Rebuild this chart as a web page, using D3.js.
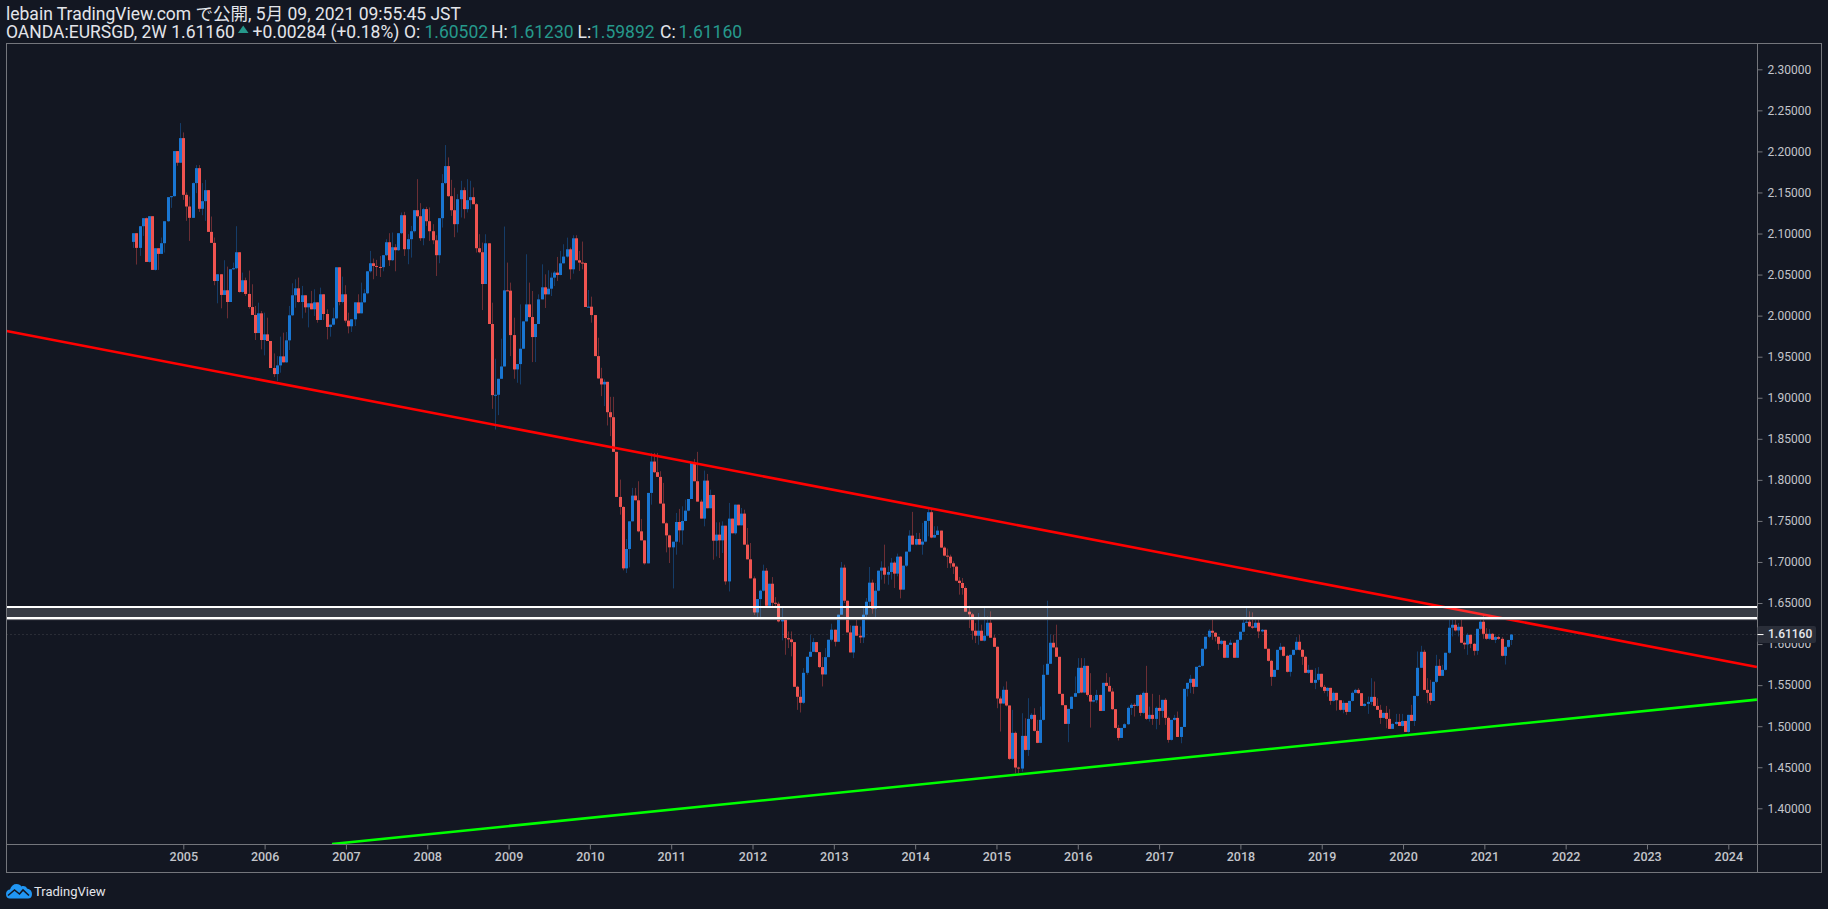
<!DOCTYPE html>
<html>
<head>
<meta charset="utf-8">
<script src="https://cdn.jsdelivr.net/npm/d3@7"></script>
<style>
  html, body { margin: 0; padding: 0; background: #131722; overflow: hidden; }
  svg { display: block; }
  text { font-family: Roboto, "Noto Sans CJK JP", sans-serif; }
</style>
</head>
<body>
<script>
// 2W bars, oldest first. Each bar opens where the one before closed.
const firstOpen = 2.0898
const closes = [
  2.1004,2.0825,2.1089,2.1187,2.0654,2.1211,2.0557,2.0821,2.0752,2.0882,
  2.1150,2.1443,2.1455,2.2004,2.1862,2.2162,2.1471,2.1329,2.1191,2.1614,
  2.1796,2.1301,2.1394,2.1528,2.1020,2.0886,2.0422,2.0504,2.0252,2.0309,
  2.0166,2.0565,2.0577,2.0772,2.0288,2.0431,2.0264,2.0105,2.0008,1.9788,
  2.0028,1.9703,1.9772,1.9691,1.9362,1.9288,1.9394,1.9504,1.9431,1.9699,
  2.0004,2.0248,2.0333,2.0166,2.0248,2.0101,2.0150,2.0077,2.0162,1.9947,
  2.0260,2.0020,1.9862,1.9890,1.9967,2.0589,2.0166,2.0260,1.9939,1.9870,
  1.9955,2.0162,2.0028,2.0162,2.0272,2.0540,2.0638,2.0605,2.0593,2.0590,
  2.0736,2.0894,2.0675,2.0833,2.0797,2.1004,2.1223,2.0809,2.0931,2.1028,
  2.1284,2.1211,2.0943,2.1297,2.1150,2.1028,2.0918,2.0736,2.1187,2.1614,
  2.1821,2.1455,2.1284,2.1114,2.1418,2.1528,2.1297,2.1406,2.1443,2.1357,
  2.0821,2.0772,2.0385,2.0881,1.9898,1.9032,1.9036,1.9231,1.9381,2.0308,
  2.0304,1.9763,1.9345,1.9410,1.9597,1.9930,2.0137,1.9983,1.9739,1.9898,
  2.0198,2.0345,2.0259,2.0328,2.0463,2.0524,2.0495,2.0637,2.0719,2.0808,
  2.0564,2.0942,2.0674,2.0646,2.0641,2.0105,2.0109,2.0007,1.9507,1.9235,
  1.9162,1.9194,1.8824,1.8763,1.8341,1.7792,1.7670,1.6922,1.7158,1.7495,
  1.7808,1.7751,1.7373,1.7263,1.6983,1.7841,1.8223,1.8093,1.8036,1.7711,
  1.7471,1.7324,1.7178,1.7247,1.7487,1.7385,1.7499,1.7625,1.7767,1.8206,
  1.7983,1.7735,1.7528,1.7991,1.7654,1.7816,1.7259,1.7333,1.7263,1.7442,
  1.6763,1.7528,1.7349,1.7698,1.7446,1.7589,1.7211,1.7032,1.6800,1.6385,
  1.6548,1.6650,1.6894,1.6467,1.6735,1.6503,1.6491,1.6276,1.6297,1.6073,
  1.6057,1.6024,1.5480,1.5358,1.5285,1.5650,1.5845,1.5906,1.6024,1.5902,
  1.5720,1.5630,1.5841,1.6053,1.6175,1.6028,1.6358,1.6931,1.6528,1.6142,
  1.5898,1.6223,1.6102,1.6081,1.6358,1.6516,1.6748,1.6431,1.6650,1.6894,
  1.6931,1.6845,1.6878,1.6992,1.6858,1.7065,1.6663,1.6955,1.7126,1.7321,
  1.7211,1.7280,1.7211,1.7248,1.7500,1.7606,1.7297,1.7329,1.7382,1.7175,
  1.7077,1.7065,1.6984,1.6943,1.6772,1.6744,1.6683,1.6394,1.6362,1.6163,
  1.6102,1.6163,1.6041,1.6102,1.6260,1.6077,1.5967,1.5337,1.5276,1.5443,
  1.5252,1.4602,1.4919,1.4496,1.4484,1.4882,1.4711,1.5089,1.5138,1.4943,
  1.4797,1.5077,1.5626,1.5760,1.6016,1.5959,1.5845,1.5394,1.5256,1.5028,
  1.5211,1.5358,1.5402,1.5711,1.5410,1.5735,1.5381,1.5300,1.5316,1.5381,
  1.5186,1.5528,1.5491,1.5422,1.5207,1.4979,1.4857,1.4979,1.5024,1.5223,
  1.5260,1.5247,1.5381,1.5162,1.5406,1.5089,1.5138,1.5089,1.5223,1.5186,
  1.5321,1.5101,1.4833,1.5077,1.5101,1.4869,1.4991,1.5455,1.5528,1.5577,
  1.5479,1.5723,1.5735,1.5943,1.6089,1.6162,1.6138,1.6089,1.6003,1.6040,
  1.5833,1.5991,1.6016,1.5833,1.6052,1.6150,1.6260,1.6272,1.6215,1.6199,
  1.6260,1.6154,1.6174,1.5943,1.5796,1.5601,1.5686,1.5930,1.5967,1.5857,
  1.5662,1.5869,1.5930,1.6028,1.5930,1.5845,1.5650,1.5686,1.5528,1.5564,
  1.5638,1.5479,1.5430,1.5467,1.5308,1.5406,1.5316,1.5199,1.5284,1.5174,
  1.5308,1.5406,1.5442,1.5402,1.5247,1.5272,1.5296,1.5357,1.5247,1.5199,
  1.5101,1.5162,1.5089,1.4967,1.5028,1.5052,1.5003,1.5064,1.4930,1.5138,
  1.5064,1.5369,1.5711,1.5906,1.5442,1.5406,1.5308,1.5540,1.5735,1.5613,
  1.5686,1.5894,1.6199,1.6235,1.6166,1.6211,1.6016,1.5995,1.6113,1.6003,
  1.5918,1.6186,1.6272,1.6125,1.6064,1.6125,1.6052,1.6085,1.6064,1.5857,
  1.5967,1.6050,1.6116
]
const highs = [
  2.1004,2.1004,2.1089,2.1187,2.1195,2.1211,2.1211,2.0821,2.0821,2.0951,
  2.1150,2.1443,2.1455,2.2004,2.2004,2.2345,2.2231,2.1500,2.1451,2.1622,
  2.1833,2.1833,2.1614,2.1654,2.1528,2.1207,2.0951,2.0504,2.0504,2.0675,
  2.0597,2.0565,2.0646,2.1089,2.0772,2.0524,2.0463,2.0549,2.0382,2.0118,
  2.0158,2.0057,2.0036,1.9975,1.9691,1.9540,1.9508,1.9744,1.9792,1.9801,
  2.0118,2.0394,2.0443,2.0463,2.0362,2.0248,2.0150,2.0301,2.0321,2.0162,
  2.0341,2.0260,2.0077,1.9890,2.0097,2.0589,2.0589,2.0475,2.0370,2.0036,
  1.9955,2.0162,2.0260,2.0402,2.0321,2.0540,2.0788,2.0695,2.0679,2.0727,
  2.0736,2.0931,2.1004,2.1012,2.0870,2.1004,2.1256,2.1264,2.0992,2.1093,
  2.1284,2.1662,2.1370,2.1313,2.1325,2.1317,2.1114,2.0979,2.1187,2.1723,
  2.2077,2.1927,2.1654,2.1557,2.1479,2.1642,2.1561,2.1662,2.1642,2.1561,
  2.1370,2.0992,2.0889,2.0991,2.0881,2.0158,1.9475,1.9231,1.9719,2.1085,
  2.0646,2.0402,1.9975,1.9410,2.0137,1.9930,2.0747,2.0402,2.0300,1.9898,
  2.0259,2.0625,2.0503,2.0552,2.0524,2.0544,2.0715,2.0788,2.0869,2.0950,
  2.0828,2.0979,2.0979,2.0788,2.0902,2.0646,2.0312,2.0231,2.0007,1.9731,
  1.9365,1.9223,1.9194,1.9011,1.9011,1.8341,1.8003,1.7678,1.7280,1.7495,
  1.7902,1.7902,1.7983,1.7524,1.7263,1.7841,1.8328,1.8328,1.8328,1.8105,
  1.7963,1.7483,1.7333,1.7247,1.7597,1.7646,1.7678,1.7759,1.7767,1.8206,
  1.8255,1.8341,1.7759,1.8113,1.8072,1.7881,1.7816,1.7483,1.7483,1.7495,
  1.7442,1.7719,1.7528,1.7698,1.7698,1.7658,1.7637,1.7414,1.7231,1.6824,
  1.6548,1.6662,1.6967,1.6926,1.6735,1.6816,1.6572,1.6516,1.6459,1.6297,
  1.6154,1.6154,1.6024,1.5492,1.5443,1.5707,1.5845,1.6114,1.6073,1.6024,
  1.5902,1.5841,1.5951,1.6053,1.6248,1.6175,1.6358,1.7000,1.6967,1.6528,
  1.6228,1.6223,1.6297,1.6215,1.6439,1.6561,1.6939,1.6785,1.6744,1.6894,
  1.7008,1.7211,1.6947,1.7049,1.7008,1.7102,1.7069,1.6955,1.7126,1.7386,
  1.7610,1.7354,1.7354,1.7476,1.7500,1.7658,1.7658,1.7435,1.7435,1.7382,
  1.7191,1.7163,1.7089,1.7008,1.6955,1.6817,1.6805,1.6703,1.6467,1.6378,
  1.6256,1.6378,1.6236,1.6439,1.6337,1.6398,1.6114,1.5971,1.5362,1.5484,
  1.5545,1.5252,1.5199,1.4935,1.4508,1.5158,1.5097,1.5341,1.5158,1.5219,
  1.5077,1.5240,1.5748,1.6528,1.6114,1.6114,1.6236,1.5845,1.5394,1.5256,
  1.5211,1.5362,1.5606,1.5829,1.5829,1.5829,1.5735,1.5646,1.5369,1.5442,
  1.5381,1.5528,1.5646,1.5597,1.5463,1.5207,1.5016,1.4979,1.5036,1.5239,
  1.5280,1.5280,1.5381,1.5394,1.5422,1.5735,1.5239,1.5394,1.5239,1.5381,
  1.5321,1.5341,1.5117,1.5077,1.5138,1.5178,1.4991,1.5455,1.5528,1.5625,
  1.5577,1.5723,1.5747,1.5943,1.6089,1.6182,1.6316,1.6146,1.6093,1.6052,
  1.6040,1.5991,1.6052,1.6016,1.6052,1.6150,1.6296,1.6447,1.6398,1.6386,
  1.6296,1.6316,1.6182,1.6174,1.5943,1.5808,1.5686,1.5930,1.6012,1.5971,
  1.5869,1.5869,1.5930,1.6085,1.6113,1.5938,1.5857,1.5747,1.5686,1.5707,
  1.5719,1.5638,1.5503,1.5475,1.5467,1.5422,1.5406,1.5316,1.5312,1.5284,
  1.5308,1.5422,1.5455,1.5463,1.5402,1.5280,1.5361,1.5585,1.5544,1.5341,
  1.5260,1.5166,1.5247,1.5207,1.5036,1.5150,1.5150,1.5150,1.5064,1.5138,
  1.5260,1.5369,1.5910,1.5979,1.5930,1.5585,1.5564,1.5540,1.5869,1.5816,
  1.5747,1.5894,1.6308,1.6308,1.6308,1.6255,1.6308,1.6032,1.6133,1.6113,
  1.6012,1.6186,1.6296,1.6357,1.6194,1.6182,1.6133,1.6101,1.6101,1.6085,
  1.5967,1.6052,1.6123
]
const lows = [
  2.0825,2.0622,2.0727,2.0971,2.0654,2.0646,2.0557,2.0549,2.0557,2.0752,
  2.0768,2.1142,2.1313,2.1451,2.1825,2.1862,2.1410,2.1154,2.0910,2.1191,
  2.1492,2.1264,2.1223,2.1154,2.1020,2.0886,2.0370,2.0150,2.0089,2.0252,
  1.9967,2.0166,2.0557,2.0565,2.0280,2.0280,2.0240,2.0085,2.0008,1.9703,
  1.9788,1.9589,1.9516,1.9691,1.9362,1.9252,1.9203,1.9305,1.9431,1.9427,
  1.9581,1.9996,2.0097,2.0158,1.9967,2.0036,1.9857,2.0077,1.9996,1.9914,
  1.9947,1.9947,1.9711,1.9744,1.9882,1.9955,2.0126,2.0150,1.9914,1.9784,
  1.9801,1.9874,2.0028,2.0028,2.0158,2.0260,2.0524,2.0443,2.0483,2.0471,
  2.0540,2.0727,2.0605,2.0666,2.0540,2.0788,2.0992,2.0727,2.0626,2.0707,
  2.1012,2.1195,2.0910,2.0857,2.1093,2.0910,2.0870,2.0483,2.0638,2.1073,
  2.1601,2.1447,2.1215,2.0955,2.1012,2.1195,2.1183,2.1256,2.1297,2.1357,
  2.0768,2.0760,2.0068,2.0385,1.9898,1.8865,1.8613,1.8788,1.9231,1.9381,
  2.0300,1.9507,1.9231,1.9182,1.9162,1.9597,1.9930,1.9975,1.9434,1.9434,
  1.9898,2.0198,2.0093,2.0259,2.0239,2.0361,2.0422,2.0491,2.0637,2.0707,
  2.0442,2.0511,2.0674,2.0544,2.0564,2.0105,2.0105,1.9914,1.9507,1.9231,
  1.9020,1.8898,1.8662,1.8532,1.8341,1.7792,1.7576,1.6898,1.6865,1.6934,
  1.7495,1.7751,1.7361,1.7263,1.6967,1.6983,1.7698,1.8085,1.8036,1.7711,
  1.7471,1.7117,1.6987,1.6678,1.7089,1.7239,1.7211,1.7495,1.7617,1.7767,
  1.7983,1.7735,1.7528,1.7434,1.7654,1.7654,1.7028,1.7068,1.7048,1.7109,
  1.6723,1.6641,1.7349,1.7333,1.7446,1.7446,1.7211,1.7032,1.6800,1.6353,
  1.6296,1.6316,1.6641,1.6459,1.6459,1.6459,1.6459,1.6264,1.6045,1.5870,
  1.5951,1.5850,1.5480,1.5199,1.5167,1.5272,1.5626,1.5841,1.5906,1.5902,
  1.5707,1.5484,1.5630,1.5841,1.6032,1.5971,1.6028,1.6358,1.6500,1.6142,
  1.5898,1.5829,1.6102,1.6012,1.6012,1.6297,1.6439,1.6370,1.6329,1.6642,
  1.6785,1.6736,1.6723,1.6785,1.6683,1.6825,1.6557,1.6663,1.6939,1.7118,
  1.7211,1.7203,1.7211,1.7089,1.7240,1.7313,1.7289,1.7293,1.7374,1.7171,
  1.7069,1.6927,1.6927,1.6854,1.6764,1.6602,1.6602,1.6394,1.6195,1.6053,
  1.6012,1.5992,1.6041,1.6032,1.6093,1.6077,1.5967,1.5219,1.4935,1.5272,
  1.5240,1.4589,1.4589,1.4427,1.4427,1.4447,1.4703,1.4638,1.5077,1.4935,
  1.4793,1.4793,1.5069,1.5626,1.5760,1.5959,1.5845,1.5394,1.5256,1.5028,
  1.4805,1.5211,1.5358,1.5402,1.5402,1.5402,1.5361,1.4983,1.5292,1.5280,
  1.5186,1.5186,1.5483,1.5422,1.5199,1.4971,1.4825,1.4857,1.4975,1.5016,
  1.5138,1.5117,1.5239,1.5125,1.5150,1.5077,1.5056,1.5016,1.4963,1.5016,
  1.5105,1.5016,1.4800,1.4825,1.5069,1.4869,1.4792,1.4991,1.5361,1.5402,
  1.5394,1.5479,1.5719,1.5727,1.5930,1.6072,1.6052,1.6032,1.5930,1.5991,
  1.5829,1.5833,1.5991,1.5833,1.5833,1.6044,1.6142,1.6255,1.6207,1.6186,
  1.6195,1.6072,1.6142,1.5943,1.5788,1.5491,1.5597,1.5686,1.5922,1.5849,
  1.5654,1.5605,1.5861,1.5922,1.5922,1.5747,1.5646,1.5638,1.5524,1.5451,
  1.5544,1.5463,1.5402,1.5361,1.5260,1.5300,1.5190,1.5190,1.5158,1.5138,
  1.5174,1.5300,1.5402,1.5394,1.5247,1.5239,1.5150,1.5260,1.5239,1.5199,
  1.5028,1.5097,1.4975,1.4967,1.4967,1.5016,1.5003,1.4995,1.4930,1.4922,
  1.5064,1.5003,1.5361,1.5711,1.5442,1.5280,1.5260,1.5308,1.5524,1.5613,
  1.5613,1.5678,1.5881,1.6093,1.6154,1.6093,1.6012,1.5938,1.5869,1.5951,
  1.5861,1.5869,1.6174,1.6064,1.6052,1.6052,1.6052,1.6012,1.6052,1.5849,
  1.5751,1.5955,1.5989
]

const firstBarYear = 2004.385
const barStepYears = 14 / 365.25

const yearTicks = d3.range(2005, 2025)
const priceTicks = d3.range(1.40, 2.301, 0.05)

// drawn lines, as [year, price] ends
const resistanceLine = [[2002.826, 1.9812], [2024.352, 1.5720]]
const supportLine = [[2006.829, 1.3565], [2024.352, 1.5324]]
const zoneTop = 1.6451
const zoneBottom = 1.6317
const zoneEdge = 1.6298

const lastPrice = 1.61160

const titleLine = 'lebain TradingView.com で公開, 5月 09, 2021 09:55:45 JST'
const symbolLine = 'OANDA:EURSGD, 2W 1.61160'
const changeText = '+0.00284 (+0.18%)'
const ohlcLabels = ['O:', 'H:', 'L:', 'C:']
const ohlcValues = ['1.60502', '1.61230', '1.59892', '1.61160']

const width = 1828
const height = 909
const frame = { left: 6.5, top: 43.5, right: 1757.5, axisRight: 1821.5, bottom: 844.5, axisBottom: 872.5 }

const blue = '#1976d2'
const red = '#ef5350'
const gridColor = '#74767c'
const labelColor = '#c3c5cb'
const bg = '#131722'

const x = d3.scaleLinear().domain([2005, 2024]).range([183.3, 1728.3])
const y = d3.scaleLinear().domain([1.40, 2.30]).range([808.3, 69.3])

const bars = closes.map((c, i) => ({
  year: firstBarYear + i * barStepYears,
  open: i === 0 ? firstOpen : closes[i - 1],
  high: highs[i],
  low: lows[i],
  close: c
}))

const svg = d3.select('body').append('svg')
  .attr('width', width)
  .attr('height', height)

svg.append('rect').attr('width', width).attr('height', height).attr('fill', bg)

const clip = svg.append('defs').append('clipPath').attr('id', 'pane')
clip.append('rect')
  .attr('x', frame.left).attr('y', frame.top)
  .attr('width', frame.right - frame.left).attr('height', frame.bottom - frame.top)

function makeHeader() {
  const headerSize = 17.5
  svg.append('text')
    .attr('x', 6).attr('y', 20)
    .attr('font-size', headerSize).attr('fill', '#e3e5ea')
    .text(titleLine)

  const row = svg.append('g')
    .attr('font-size', headerSize).attr('fill', '#e3e5ea')
  const rowText = (str, xPos, color) => row.append('text')
    .attr('x', xPos).attr('y', 38)
    .attr('fill', color || null)
    .text(str)

  rowText(symbolLine, 6)
  rowText(changeText, 252.5)
  const labelX = [404, 491, 577.5, 660]
  const valueX = [424.5, 510, 591, 678.5]
  ohlcLabels.forEach((label, i) => {
    rowText(label, labelX[i])
    rowText(ohlcValues[i], valueX[i], '#26998c')
  })

  svg.append('path')
    .attr('d', 'M238,33 L248.5,33 L243.2,25.5 Z')
    .attr('fill', '#26998c')
}

function makeBars(pane) {
  const g = pane.append('g')
  const color = d => d.close >= d.open ? blue : red
  const snap = d => Math.round(x(d.year))

  g.selectAll('line.wick')
    .data(bars)
    .enter().append('line')
    .attr('class', 'wick')
    .attr('x1', d => snap(d) + 0.5).attr('x2', d => snap(d) + 0.5)
    .attr('y1', d => y(d.high)).attr('y2', d => y(d.low))
    .attr('stroke', color).attr('stroke-opacity', 0.4)

  g.selectAll('rect.body')
    .data(bars)
    .enter().append('rect')
    .attr('class', 'body')
    .attr('x', d => snap(d) - 1).attr('width', 3)
    .attr('y', d => y(Math.max(d.open, d.close)))
    .attr('height', d => Math.max(1, Math.abs(y(d.open) - y(d.close))))
    .attr('fill', color)
}

function makePriceLine(pane) {
  pane.append('line')
    .attr('x1', frame.left).attr('x2', frame.right)
    .attr('y1', y(lastPrice)).attr('y2', y(lastPrice))
    .attr('stroke', '#44474f').attr('stroke-dasharray', '1 3')
}

function makeTrendLines(pane) {
  const line = d3.line().x(d => x(d[0])).y(d => y(d[1]))
  pane.append('path').attr('d', line(resistanceLine))
    .attr('fill', 'none').attr('stroke', '#ff0000').attr('stroke-width', 2.6)
  pane.append('path').attr('d', line(supportLine))
    .attr('fill', 'none').attr('stroke', '#00ff00').attr('stroke-width', 2.6)
}

function makeZone(pane) {
  pane.append('rect')
    .attr('x', frame.left).attr('width', frame.right - frame.left)
    .attr('y', y(zoneTop)).attr('height', y(zoneEdge) - y(zoneTop))
    .attr('fill', '#ffffff').attr('fill-opacity', 0.16)
  pane.selectAll('line.zone')
    .data([zoneTop, zoneBottom])
    .enter().append('line')
    .attr('class', 'zone')
    .attr('x1', frame.left).attr('x2', frame.right)
    .attr('y1', d => y(d)).attr('y2', d => y(d))
    .attr('stroke', '#ffffff').attr('stroke-width', 2)
  pane.append('line')
    .attr('x1', frame.left).attr('x2', frame.right)
    .attr('y1', y(zoneEdge)).attr('y2', y(zoneEdge))
    .attr('stroke', '#8d8f94').attr('stroke-width', 1)
}

function makeAxes() {
  const xAxis = d3.axisBottom(x).tickValues(yearTicks).tickFormat(d3.format('d')).tickSize(5).tickPadding(3)
  const yAxis = d3.axisRight(y).tickValues(priceTicks).tickFormat(d3.format('.5f')).tickSize(5).tickPadding(5)

  const gx = svg.append('g').attr('transform', `translate(0,${frame.bottom})`).call(xAxis)
  const gy = svg.append('g').attr('transform', `translate(${frame.right},0)`).call(yAxis)

  for (const g of [gx, gy]) {
    g.select('.domain').remove()
    g.selectAll('line').attr('stroke', gridColor)
    g.selectAll('text').attr('fill', labelColor).attr('font-size', 12)
  }
  gx.selectAll('text').attr('font-weight', 500).attr('font-size', 12.5)

  const border = svg.append('g').attr('fill', 'none').attr('stroke', gridColor)
  border.append('rect')
    .attr('x', frame.left).attr('y', frame.top)
    .attr('width', frame.axisRight - frame.left).attr('height', frame.axisBottom - frame.top)
  border.append('line')
    .attr('x1', frame.right).attr('x2', frame.right)
    .attr('y1', frame.top).attr('y2', frame.axisBottom)
  border.append('line')
    .attr('x1', frame.left).attr('x2', frame.axisRight)
    .attr('y1', frame.bottom).attr('y2', frame.bottom)
}

function makeLastPriceLabel() {
  const g = svg.append('g').attr('transform', `translate(${frame.right},${y(lastPrice)})`)
  g.append('rect')
    .attr('x', 0).attr('y', -8.5).attr('width', 58.5).attr('height', 17).attr('rx', 2)
    .attr('fill', '#2a2e39')
  g.append('line').attr('x1', 0).attr('x2', 6).attr('stroke', '#ffffff')
  g.append('text')
    .attr('x', 10.5).attr('dy', '0.32em')
    .attr('font-size', 12).attr('font-weight', 500).attr('fill', '#e6e8ee')
    .text(d3.format('.5f')(lastPrice))
}

function makeLogo() {
  const g = svg.append('g').attr('transform', 'translate(6,883)')
  g.append('path')
    .attr('d', 'M0,11 C0,8 2,6.5 4,6.5 C5,3 7.5,1 10.5,1 C13,1 14.5,2 15.5,3.5 C17,2.5 20,3 21,5.5 C24,6 26,8 26,11 C26,14 24.5,15.5 22,15.5 L4,15.5 C1.5,15.5 0,14 0,11 Z')
    .attr('fill', '#2196f3')
  g.append('path')
    .attr('d', 'M2,12.5 L8.5,7 L13.5,11 L17,7 L23,12.5')
    .attr('fill', 'none').attr('stroke', bg).attr('stroke-width', 1.6)
  svg.append('text')
    .attr('x', 34).attr('y', 896)
    .attr('font-size', 13).attr('fill', '#e3e5ea')
    .text('TradingView')
}

const pane = svg.append('g').attr('clip-path', 'url(#pane)')
makePriceLine(pane)
makeBars(pane)
makeTrendLines(pane)
makeZone(pane)
makeAxes()
makeLastPriceLabel()
makeHeader()
makeLogo()
</script>
</body>
</html>
